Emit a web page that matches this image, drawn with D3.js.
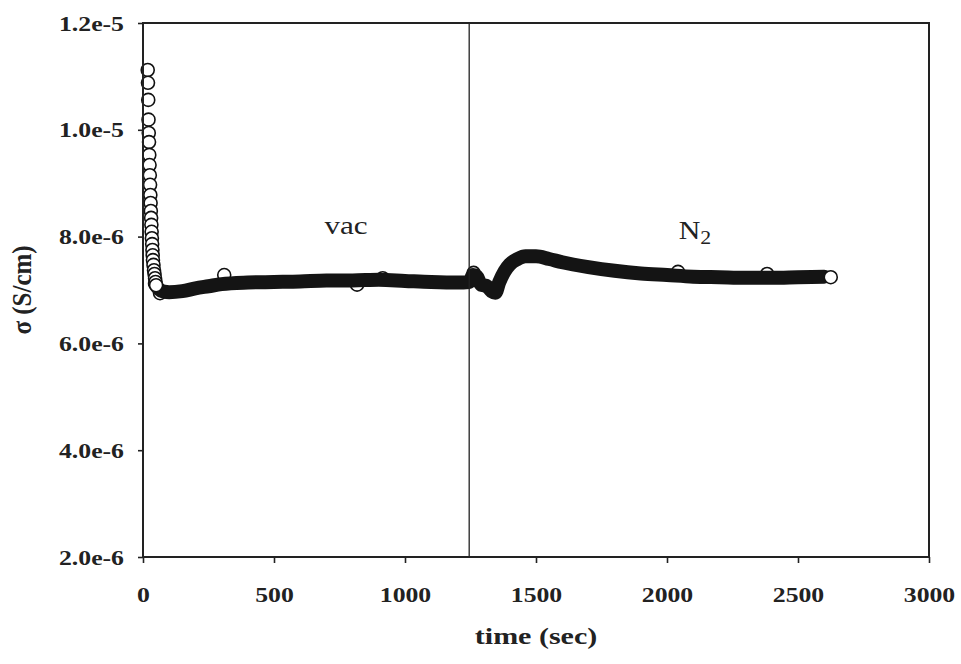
<!DOCTYPE html>
<html lang="en">
<head>
<meta charset="UTF-8">
<title>Conductivity vs time</title>
<script src="https://d3js.org/d3.v7.min.js"></script>
<style>
    body { margin: 0; background: #fff; }
    svg { display: block; }
</style>
</head>
<body>
<div id="chart"></div>
<script>
// early decay right after start (visible separate circles)
const earlyT = [18, 19, 20, 21, 22, 23, 24, 25, 26, 27, 28, 29, 30, 31, 32, 33,
                34, 35, 36, 37, 38, 40, 42, 44, 46, 48, 50];
const earlyS = [11.12e-6, 10.88e-6, 10.56e-6, 10.19e-6, 9.94e-6, 9.77e-6, 9.53e-6,
                9.34e-6, 9.15e-6, 8.97e-6, 8.78e-6, 8.63e-6, 8.48e-6, 8.35e-6, 8.22e-6,
                8.09e-6, 7.97e-6, 7.86e-6, 7.75e-6, 7.65e-6, 7.56e-6, 7.47e-6, 7.37e-6,
                7.30e-6, 7.22e-6, 7.15e-6, 7.09e-6];

// dense run of points, merges into a solid band
const bandT = [45, 60, 80, 100, 150, 200, 250, 300, 400, 500, 600, 700, 800, 900,
               1000, 1100, 1200, 1245, 1260, 1275, 1290, 1310, 1330, 1345, 1360,
               1380, 1400, 1430, 1460, 1500, 1550, 1600, 1700, 1800, 1900, 2000,
               2100, 2200, 2300, 2400, 2500, 2600];
const bandS = [7.12e-6, 7.02e-6, 6.97e-6, 6.96e-6, 6.98e-6, 7.03e-6, 7.07e-6, 7.11e-6,
               7.14e-6, 7.15e-6, 7.16e-6, 7.18e-6, 7.18e-6, 7.19e-6, 7.17e-6, 7.15e-6,
               7.14e-6, 7.15e-6, 7.28e-6, 7.25e-6, 7.10e-6, 7.08e-6, 6.98e-6, 6.95e-6,
               7.15e-6, 7.35e-6, 7.48e-6, 7.58e-6, 7.63e-6, 7.63e-6, 7.58e-6, 7.52e-6,
               7.43e-6, 7.36e-6, 7.31e-6, 7.28e-6, 7.25e-6, 7.24e-6, 7.23e-6, 7.23e-6,
               7.24e-6, 7.25e-6];

// scattered points sticking out of the band
const strayT = [65, 310, 817, 915, 1262, 2042, 2382];
const strayS = [6.94e-6, 7.28e-6, 7.10e-6, 7.22e-6, 7.32e-6, 7.34e-6, 7.30e-6];

// last reading
const lastT = [2625];
const lastS = [7.24e-6];

const switchTime = 1245;   // vacuum -> N2
const xTicks = [0, 500, 1000, 1500, 2000, 2500, 3000];
const yTicks = [2e-6, 4e-6, 6e-6, 8e-6, 1e-5, 1.2e-5];

const serif = "'Liberation Serif', 'DejaVu Serif', serif";
const stretch = 1.17;   // the scanned lettering is a bit wide

const W = 961, H = 664;
const margin = {top: 23, right: 32, bottom: 107, left: 143};
const width = W - margin.left - margin.right,
      height = H - margin.top - margin.bottom;

const svg = d3.select("#chart").append("svg")
    .attr("width", W)
    .attr("height", H);

const g = svg.append("g")
    .attr("transform", `translate(${margin.left},${margin.top})`);

const x = d3.scaleLinear().domain([0, 3000]).range([0, width]);
const y = d3.scaleLinear().domain([2e-6, 1.2e-5]).range([height, 0]);

const zip = (a, b) => a.map((v, i) => [v, b[i]]);

// stray circles go under the band
g.selectAll(".stray")
    .data(zip(strayT, strayS))
    .join("circle")
    .attr("class", "stray")
    .attr("cx", d => x(d[0]))
    .attr("cy", d => y(d[1]))
    .attr("r", 6.5)
    .attr("fill", "#fff")
    .attr("stroke", "#111")
    .attr("stroke-width", 1.6);

// the dense markers drawn as a thick band
const line = d3.line()
    .x(d => x(d[0]))
    .y(d => y(d[1]))
    .curve(d3.curveMonotoneX);

g.append("path")
    .datum(zip(bandT, bandS))
    .attr("d", line)
    .attr("fill", "none")
    .attr("stroke", "#141414")
    .attr("stroke-width", 14)
    .attr("stroke-linecap", "round")
    .attr("stroke-linejoin", "round");

g.selectAll(".early")
    .data(zip(earlyT, earlyS).concat(zip(lastT, lastS)))
    .join("circle")
    .attr("class", "early")
    .attr("cx", d => x(d[0]))
    .attr("cy", d => y(d[1]))
    .attr("r", 6.5)
    .attr("fill", "#fff")
    .attr("stroke", "#111")
    .attr("stroke-width", 1.6);

// switch marker
g.append("line")
    .attr("x1", x(switchTime)).attr("x2", x(switchTime))
    .attr("y1", 0).attr("y2", height)
    .attr("stroke", "#222")
    .attr("stroke-width", 1.3);

// frame
g.append("rect")
    .attr("width", width)
    .attr("height", height)
    .attr("fill", "none")
    .attr("stroke", "#222")
    .attr("stroke-width", 2);

// axes
const xAxis = g.append("g")
    .attr("transform", `translate(0,${height})`)
    .call(d3.axisBottom(x).tickValues(xTicks).tickSize(6).tickPadding(23).tickFormat(d3.format("d")));

const yAxis = g.append("g")
    .call(d3.axisLeft(y).tickValues(yTicks).tickSize(5).tickPadding(13).tickFormat(d3.format(".1e")));

[xAxis, yAxis].forEach(a => {
    a.attr("font-family", serif).attr("font-size", 22).attr("font-weight", "bold");
    a.select(".domain").remove();
    a.selectAll(".tick line").attr("stroke", "#222").attr("stroke-width", 1.6);
    a.selectAll(".tick text").attr("fill", "#222")
        .attr("transform", `scale(${stretch},1)`);
});
yAxis.selectAll(".tick text").attr("x", -19 / stretch);

// labels
svg.append("text")
    .attr("transform", `translate(536,644) scale(1.25,1)`)
    .attr("text-anchor", "middle")
    .attr("font-family", serif)
    .attr("font-size", 24)
    .attr("font-weight", "bold")
    .attr("fill", "#222")
    .text("time (sec)");

svg.append("text")
    .attr("transform", "translate(31,290) rotate(-90) scale(1,1.1)")
    .attr("text-anchor", "middle")
    .attr("font-family", serif)
    .attr("font-size", 25)
    .attr("font-weight", "bold")
    .attr("fill", "#222")
    .text("σ (S/cm)");

g.append("text")
    .attr("transform", `translate(${x(775)},${y(8.05e-6)}) scale(1.2,1)`)
    .attr("text-anchor", "middle")
    .attr("font-family", serif)
    .attr("font-size", 26)
    .attr("fill", "#222")
    .text("vac");

const n2 = g.append("text")
    .attr("transform", `translate(${x(2107)},${y(7.95e-6)}) scale(1.15,1)`)
    .attr("text-anchor", "middle")
    .attr("font-family", serif)
    .attr("font-size", 26)
    .attr("fill", "#222");
n2.append("tspan").text("N");
n2.append("tspan").attr("dy", 5).attr("font-size", 19).text("2");
</script>
</body>
</html>
